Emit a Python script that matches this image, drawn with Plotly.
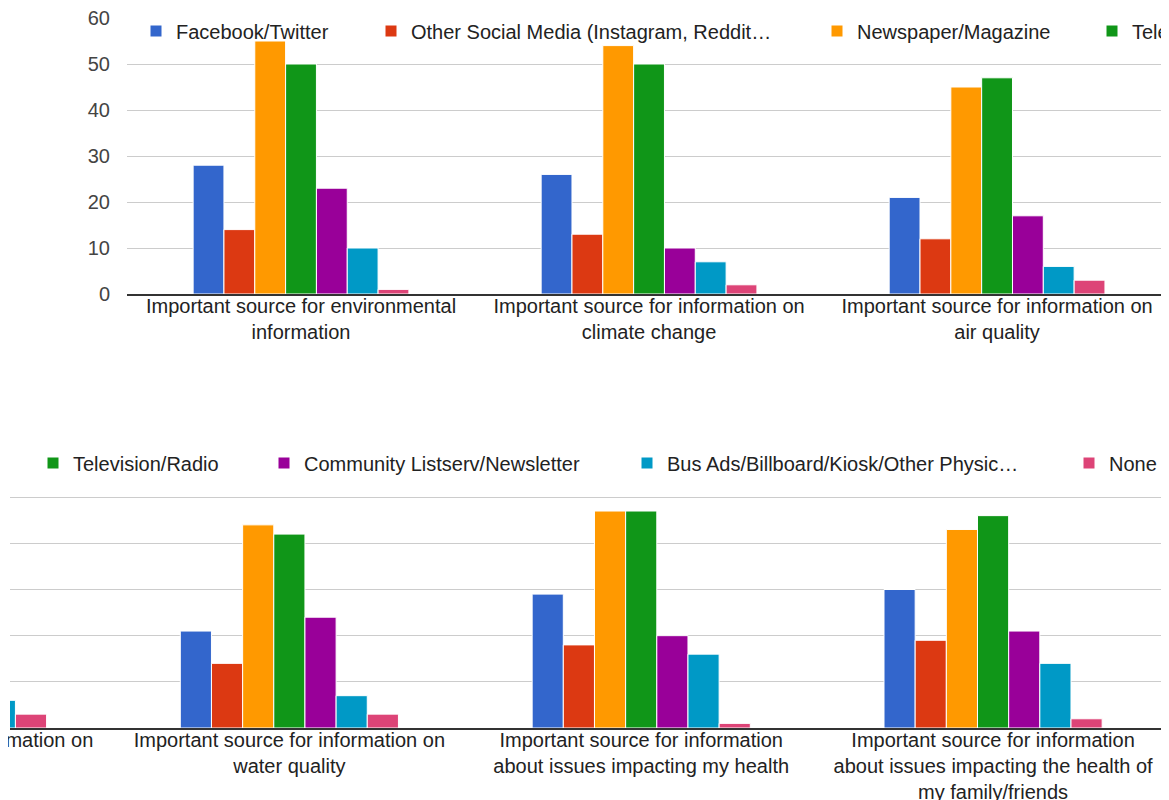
import plotly.graph_objects as go

W, H = 1169, 800
OFF = 8  # page body margin of the html page

categories = [
    "Important source for environmental<br>information",
    "Important source for information on<br>climate change",
    "Important source for information on<br>air quality",
    "Important source for information on<br>water quality",
    "Important source for information<br>about issues impacting my health",
    "Important source for information<br>about issues impacting the health of<br>my family/friends",
]

series_names = [
    "Facebook/Twitter",
    "Other Social Media (Instagram, Reddit…",
    "Newspaper/Magazine",
    "Television/Radio",
    "Community Listserv/Newsletter",
    "Bus Ads/Billboard/Kiosk/Other Physic…",
    "None",
]
series_colors = ["#3366cc", "#dc3912", "#ff9900", "#109618", "#990099", "#0099c6", "#dd4477"]

facebook_twitter = [28, 26, 21, 21, 29, 30]
other_social = [14, 13, 12, 14, 18, 19]
newspaper = [55, 54, 45, 44, 47, 43]
television = [50, 50, 47, 42, 47, 46]
community = [23, 10, 17, 24, 20, 21]
bus_ads = [10, 7, 6, 7, 16, 14]
none_vals = [1, 2, 3, 3, 1, 2]
series_values = [facebook_twitter, other_social, newspaper, television, community, bus_ads, none_vals]

y_ticks = [0, 10, 20, 30, 40, 50, 60]

FONT = "Liberation Sans, Arial, sans-serif"
TXT = "#222222"


def px_x(p):
    return (p - OFF) / W


def px_y(p):
    return 1 - (p - OFF) / H


# layout geometry (pixels in the screenshot)
top_dom_x = (px_x(127), 1.0)
top_dom_y = (px_y(294), px_y(18))
bot_dom_x = (px_x(10), 1.0)
bot_dom_y = (px_y(728), px_y(451))
top_range = [-0.5, 2.494 + OFF / 348]
bot_range = [2.206, 5.5 + OFF / 352]

top_legend_text_px = [176, 411, 857, 1132]
bot_legend_text_px = [73, 304, 667, 1109]

fig = go.Figure()

top_leg_ids = ["legend", "legend2", "legend3", "legend4"]
bot_leg_ids = ["legend5", "legend6", "legend7", "legend8"]

for i, (name, color, vals) in enumerate(zip(series_names, series_colors, series_values)):
    kw = dict(name=name, x=categories, y=vals,
              marker=dict(color=color, line=dict(color="white", width=1)),
              hoverinfo="x+y+name")
    if i < 4:
        fig.add_trace(go.Bar(xaxis="x", yaxis="y", showlegend=True, legend=top_leg_ids[i], **kw))
    else:
        fig.add_trace(go.Bar(xaxis="x", yaxis="y", showlegend=False, **kw))
    if i >= 3:
        fig.add_trace(go.Bar(xaxis="x2", yaxis="y2", showlegend=True, legend=bot_leg_ids[i - 3], **kw))
    else:
        fig.add_trace(go.Bar(xaxis="x2", yaxis="y2", showlegend=False, **kw))

legend_common = dict(orientation="h", xanchor="left", yanchor="middle",
                     bgcolor="rgba(0,0,0,0)", borderwidth=0,
                     font=dict(family=FONT, size=20, color=TXT))
legends = {}
for lid, px in zip(top_leg_ids, top_legend_text_px):
    legends[lid] = dict(x=px_x(px - 40), y=px_y(31), **legend_common)
for lid, px in zip(bot_leg_ids, bot_legend_text_px):
    legends[lid] = dict(x=px_x(px - 40), y=px_y(463), **legend_common)

axis_font = dict(family=FONT, size=20, color=TXT)
XSTAND = -7

fig.update_layout(
    width=W, height=H,
    margin=dict(l=0, r=0, t=0, b=0, autoexpand=False),
    paper_bgcolor="white", plot_bgcolor="white",
    barmode="group", bargap=0.38, bargroupgap=0.0,
    font=dict(family=FONT, size=20, color=TXT),
    xaxis=dict(domain=list(top_dom_x), anchor="y", type="category", range=top_range,
               showline=True, linecolor="#333333", linewidth=1.5, showgrid=False,
               ticks="", tickfont=axis_font, ticklabelstandoff=XSTAND),
    yaxis=dict(domain=list(top_dom_y), anchor="x", range=[0, 60], tickvals=y_ticks,
               gridcolor="#cccccc", gridwidth=1, zeroline=False, showline=False,
               ticks="", ticklabelstandoff=16, ticklabeloverflow="allow",
               tickfont=dict(family=FONT, size=20, color="#444444")),
    xaxis2=dict(domain=list(bot_dom_x), anchor="y2", type="category", range=bot_range,
                showline=True, linecolor="#333333", linewidth=1.5, showgrid=False,
                ticks="", tickfont=axis_font, ticklabelstandoff=XSTAND),
    yaxis2=dict(domain=list(bot_dom_y), anchor="x2", range=[0, 60], tickvals=y_ticks,
                gridcolor="#cccccc", gridwidth=1, zeroline=False, showline=False,
                showticklabels=False),
    **legends,
)

# partially visible label of the third category at left of lower panel
cat_idx = 2
frac = (cat_idx - bot_range[0]) / (bot_range[1] - bot_range[0])
x_paper = bot_dom_x[0] + frac * (bot_dom_x[1] - bot_dom_x[0])
fig.add_annotation(xref="paper", yref="paper", x=x_paper, y=bot_dom_y[0],
                   xanchor="center", yanchor="top", yshift=1, showarrow=False,
                   text=categories[cat_idx], font=axis_font, align="center")

fig.write_html("out.html")
